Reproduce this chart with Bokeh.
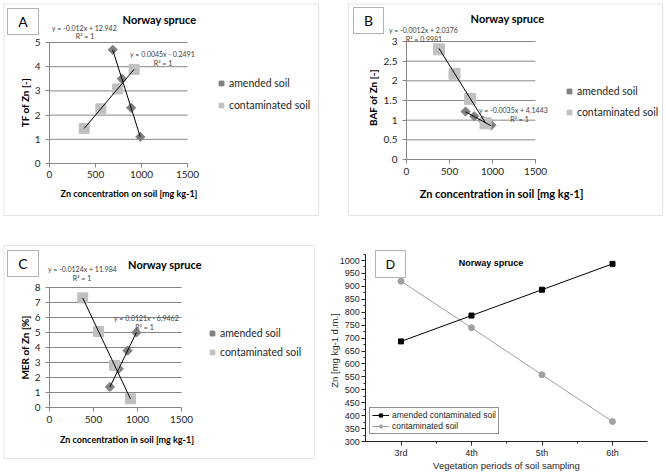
import math
from bokeh.plotting import figure
from bokeh.models import (Range1d, Label, BoxAnnotation, Legend, LegendItem,
                          FixedTicker, SingleIntervalTicker, NumeralTickFormatter)
from bokeh.layouts import row, column
from bokeh.embed import file_html
from bokeh.resources import INLINE

# ---------------- data ----------------
periods = ["3rd", "4th", "5th", "6th"]
soil_zn_amended = [687, 787, 887, 987]        # Zn in amended contaminated soil per period
soil_zn_contam = [920, 740, 558, 377]         # Zn in contaminated soil per period

tf_amended = [4.70, 3.50, 2.30, 1.10]
tf_contam = [3.89, 3.08, 2.26, 1.45]
baf_amended = [1.22, 1.10, 0.99, 0.87]
baf_contam = [0.92, 1.54, 2.18, 2.80]
mer_amended = [1.37, 2.58, 3.79, 5.00]
mer_contam = [0.58, 2.81, 5.07, 7.31]

# trend lines (slope, intercept)
tf_trend_amended = [-0.012, 12.942]
tf_trend_contam = [0.0045, -0.2491]
baf_trend_amended = [-0.0012, 2.0376]
baf_trend_contam = [-0.0035, 4.1443]
mer_trend_amended = [0.0121, -6.9462]
mer_trend_contam = [-0.0124, 11.984]

x_ticks = [0, 500, 1000, 1500]
tf_ticks = [0, 1, 2, 3, 4, 5]
baf_ticks = [0, 0.5, 1, 1.5, 2, 2.5, 3]
mer_ticks = [0, 1, 2, 3, 4, 5, 6, 7, 8]

# ---------------- styles ----------------
FONT = "Lato"
ARIAL = "Liberation Sans"
GRID = "#868686"
AMEND = "#7f7f7f"
CONTAM = "#c0c0c0"
BORDER = "#a6a6a6"
TXT = "#262626"
EQ = "#404040"


class Panel:
    """A figure whose frame covers its whole canvas; page pixels -> data via a
    linear mapping so the plot area sits where it does in the reference."""

    def __init__(self, L, T, W, H, xmap, ymap):
        self.L, self.T, self.W, self.H = L, T, W, H
        xs = (xmap[3] - xmap[1]) / (xmap[2] - xmap[0])
        ys = (ymap[3] - ymap[1]) / (ymap[2] - ymap[0])
        xr = Range1d(xmap[1] + (L - xmap[0]) * xs, xmap[1] + (L + W - xmap[0]) * xs)
        yr = Range1d(ymap[1] + (T + H - ymap[0]) * ys, ymap[1] + (T - ymap[0]) * ys)
        p = figure(frame_width=W, frame_height=H, x_range=xr, y_range=yr,
                   min_border_left=0, min_border_right=0, min_border_top=0,
                   min_border_bottom=0, output_backend="svg", toolbar_location=None)
        p.title.visible = False
        p.background_fill_color = "white"
        p.border_fill_color = "white"
        p.outline_line_color = None
        p.xgrid.visible = False
        p.ygrid.visible = False
        self.p = p

    def sx(self, X):
        return X - self.L

    def sy(self, Y):
        return self.T + self.H - Y

    def text(self, X, Y, s, size, font=FONT, bold=False, color="black",
             align="center", angle=0.0):
        self.p.add_layout(Label(x=self.sx(X), y=self.sy(Y), x_units="screen",
                                y_units="screen", text=s, text_font=font,
                                text_font_size=size, text_color=color,
                                text_font_style="bold" if bold else "normal",
                                text_align=align, text_baseline="middle",
                                angle=angle))

    def box(self, X0, X1, Y0, Y1, color, fill=None):
        self.p.add_layout(BoxAnnotation(
            left=self.sx(X0), right=self.sx(X1),
            top=self.sy(Y0), bottom=self.sy(Y1),
            left_units="screen", right_units="screen",
            top_units="screen", bottom_units="screen",
            fill_color=fill if fill else "white", fill_alpha=1.0 if fill else 0.0,
            line_color=color, line_width=1, level="underlay" if not fill else "annotation"))

    def legend_at(self, X, Ybottom):
        return (self.sx(X), self.sy(Ybottom))


def trend_xy(xs, coef):
    x0, x1 = min(xs), max(xs)
    return [x0, x1], [coef[0] * x0 + coef[1], coef[0] * x1 + coef[1]]


def excel_panel(P, yticks, ys_am, ys_co, tr_am, tr_co, sq_size, legend_loc,
                legend_spacing, y_fmt=None, xstand=3):
    p = P.p
    # horizontal gridlines limited to the plot area
    p.segment(x0=[x_ticks[0]] * len(yticks), x1=[x_ticks[-1]] * len(yticks),
              y0=yticks, y1=yticks, line_color=GRID, line_width=1)
    p.xaxis.fixed_location = yticks[0]
    p.yaxis.fixed_location = x_ticks[0]
    p.xaxis.bounds = (x_ticks[0], x_ticks[-1])
    p.yaxis.bounds = (yticks[0], yticks[-1])
    p.xaxis.ticker = FixedTicker(ticks=x_ticks)
    p.yaxis.ticker = FixedTicker(ticks=yticks)
    if y_fmt:
        p.yaxis.formatter = NumeralTickFormatter(format=y_fmt)
    for ax in (p.xaxis[0], p.yaxis[0]):
        ax.axis_line_color = GRID
        ax.major_tick_line_color = GRID
        ax.major_tick_in = 0
        ax.major_tick_out = 4
        ax.minor_tick_line_color = None
        ax.major_label_text_font = FONT
        ax.major_label_text_font_size = "10px"
        ax.major_label_text_color = TXT
    p.xaxis.major_label_standoff = xstand
    p.yaxis.major_label_standoff = 5

    p.scatter(soil_zn_amended, ys_am, marker="square", angle=math.pi / 4,
              size=6.5, fill_color=AMEND, line_color=AMEND)
    p.scatter(soil_zn_contam, ys_co, marker="square", size=sq_size,
              fill_color=CONTAM, line_color=CONTAM)
    tx, ty = trend_xy(soil_zn_amended, tr_am)
    p.line(tx, ty, line_color="black", line_width=1)
    tx, ty = trend_xy(soil_zn_contam, tr_co)
    p.line(tx, ty, line_color="black", line_width=1)

    # legend keys: hidden copies of the series with the smaller Excel legend markers
    k_am = p.scatter(soil_zn_amended, ys_am, marker="square", angle=math.pi / 4,
                     size=5, fill_color=AMEND, line_color=AMEND, visible=False)
    k_co = p.scatter(soil_zn_contam, ys_co, marker="square", size=7,
                     fill_color=CONTAM, line_color=CONTAM, visible=False)
    leg = Legend(items=[LegendItem(label="amended soil", renderers=[k_am]),
                        LegendItem(label="contaminated soil", renderers=[k_co])],
                 location=legend_loc, orientation="vertical", padding=0, margin=0,
                 spacing=legend_spacing, glyph_width=12, glyph_height=14,
                 label_height=14, label_standoff=2, label_text_font=FONT,
                 label_text_font_size="10.5px", label_text_color=TXT,
                 border_line_color=None, background_fill_alpha=0,
                 inactive_fill_alpha=0)
    p.add_layout(leg)


# ---------------- panel A ----------------
A = Panel(0, 0, 340, 233, (49, 0, 187, 1500), (163, 0, 42, 5))
excel_panel(A, tf_ticks, tf_amended, tf_contam, tf_trend_amended, tf_trend_contam,
            10, A.legend_at(215, 112), 8)
A.box(3.5, 318, 3.5, 215, BORDER)
A.box(7, 38, 8, 34, "black", "white")
A.text(22.5, 21, "A", "14px")
A.text(159, 19, "Norway spruce", "11px", bold=True)
A.text(84, 27, "y = -0.012x + 12.942", "7px", color=EQ)
A.text(84.5, 35.5, "R² = 1", "7px", color=EQ)
A.text(162, 53.5, "y = 0.0045x - 0.2491", "7px", color=EQ)
A.text(162.5, 62.5, "R² = 1", "7px", color=EQ)
A.text(24, 102, "TF of Zn [-]", "10px", bold=True, angle=math.pi / 2)
A.text(128.5, 193, "Zn concentration on soil [mg kg-1]", "9px", bold=True)

# ---------------- panel B ----------------
B = Panel(340, 0, 326, 233, (406, 0, 535, 1500), (159, 0, 41, 3))
excel_panel(B, baf_ticks, baf_amended, baf_contam, baf_trend_amended, baf_trend_contam,
            11, B.legend_at(563, 119), 7, y_fmt="0.[0]", xstand=4)
B.box(348, 662, 3.5, 215, BORDER)
B.box(353, 383, 7, 33, "black", "white")
B.text(368, 20, "B", "14px")
B.text(507, 18, "Norway spruce", "11px", bold=True)
B.text(423, 29, "y = -0.0012x + 2.0376", "7px", color=EQ)
B.text(423.5, 38.5, "R² = 0.9981", "7px", color=EQ)
B.text(513, 109, "y = -0.0035x + 4.1443", "7px", color=EQ)
B.text(519, 118, "R² = 1", "7px", color=EQ)
B.text(372, 97, "BAF of Zn [-]", "10px", bold=True, angle=math.pi / 2)
B.text(501, 193, "Zn concentration in soil [mg kg-1]", "11px", bold=True)

# ---------------- panel C ----------------
C = Panel(0, 233, 328, 239, (49, 0, 181, 1500), (407, 0, 287, 8))
excel_panel(C, mer_ticks, mer_amended, mer_contam, mer_trend_amended, mer_trend_contam,
            10, C.legend_at(206, 359), 5, xstand=4)
C.box(3.5, 314, 245, 458, BORDER)
C.box(7, 38, 250, 276, "black", "white")
C.text(22.5, 263, "C", "14px")
C.text(164.5, 264, "Norway spruce", "11px", bold=True)
C.text(82, 268, "y = -0.0124x + 11.984", "7px", color=EQ)
C.text(81.5, 277, "R² = 1", "7px", color=EQ)
C.text(146, 317, "y = 0.0121x - 6.9462", "7px", color=EQ)
C.text(144, 326, "R² = 1", "7px", color=EQ)
C.text(24, 347, "MER of Zn [%]", "10px", bold=True, angle=math.pi / 2)
C.text(126.5, 439, "Zn concentration in soil [mg kg-1]", "9px", bold=True)

# ---------------- panel D ----------------
idx = list(range(len(periods)))
D = Panel(328, 233, 338, 239, (400.5, idx[0], 612, idx[-1]), (441, 300, 260, 1000))
pd_ = D.p
pd_.xaxis.fixed_location = 300
pd_.yaxis.fixed_location = idx[0] - 0.5
pd_.xaxis.bounds = (idx[0] - 0.5, idx[-1] + 0.5)
pd_.yaxis.bounds = (300, 1025)
pd_.xaxis.ticker = FixedTicker(ticks=idx, minor_ticks=[i + 0.5 for i in idx[:-1]])
pd_.xaxis.major_label_overrides = {i: s for i, s in zip(idx, periods)}
pd_.yaxis.ticker = SingleIntervalTicker(interval=50, num_minor_ticks=2)
for ax in (pd_.xaxis[0], pd_.yaxis[0]):
    ax.axis_line_color = "#222222"
    ax.major_tick_line_color = "#222222"
    ax.minor_tick_line_color = "#222222"
    ax.major_tick_in = 0
    ax.major_tick_out = 4
    ax.minor_tick_in = 0
    ax.minor_tick_out = 2
    ax.major_label_text_font = ARIAL
    ax.major_label_text_font_size = "9px"
    ax.major_label_text_color = TXT
    ax.major_label_standoff = 2

l_co = pd_.line(idx, soil_zn_contam, line_color="#a0a0a0", line_width=1)
s_co = pd_.scatter(idx, soil_zn_contam, marker="circle", size=6,
                   fill_color="#a0a0a0", line_color="#a0a0a0")
l_am = pd_.line(idx, soil_zn_amended, line_color="black", line_width=1)
s_am = pd_.scatter(idx, soil_zn_amended, marker="square", size=5,
                   fill_color="black", line_color="black")
legD = Legend(items=[LegendItem(label="amended contaminated soil", renderers=[l_am, s_am]),
                     LegendItem(label="contaminated soil", renderers=[l_co, s_co])],
              location=D.legend_at(369, 434), orientation="vertical", padding=2, margin=0,
              spacing=1, glyph_width=17, glyph_height=8, label_height=8,
              label_standoff=3, label_text_font=ARIAL, label_text_font_size="8.5px",
              label_text_color=TXT, border_line_color="#222222", border_line_width=1,
              background_fill_color="white", background_fill_alpha=1)
pd_.add_layout(legD)
D.box(375, 405, 250, 277, "black", "white")
D.text(390, 264, "D", "13px", font=ARIAL)
D.text(490.5, 262, "Norway spruce", "9px", font=ARIAL, bold=True)
D.text(334, 350, "Zn [mg kg-1 d.m.]", "9.5px", font=ARIAL, color=TXT, angle=math.pi / 2)
D.text(506, 465, "Vegetation periods of soil sampling", "9.5px", font=ARIAL, color=TXT)

layout = column(row(A.p, B.p, spacing=0), row(C.p, D.p, spacing=0), spacing=0)

open("out.html", "w").write(file_html(layout, INLINE))
